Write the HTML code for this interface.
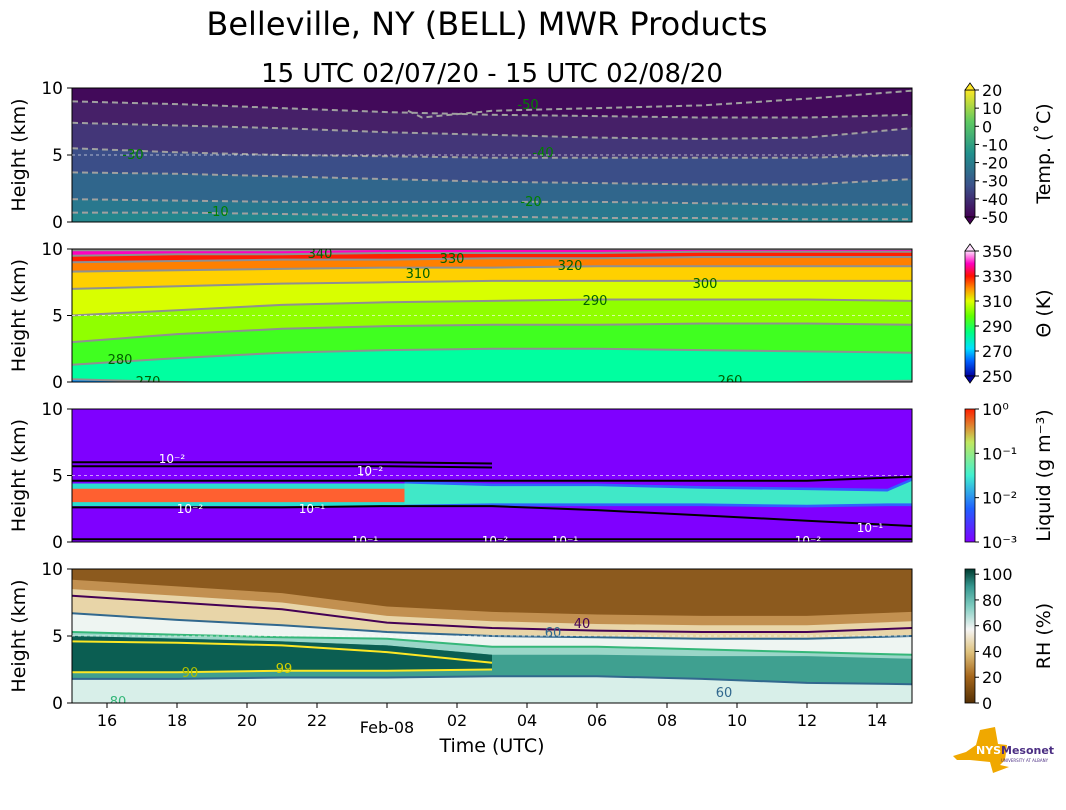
<!DOCTYPE html>
<html><head><meta charset="utf-8">
<style>
html,body{margin:0;padding:0;background:#fff;}
body{width:1066px;height:806px;overflow:hidden;font-family:"DejaVu Sans",sans-serif;}
svg text{font-family:"DejaVu Sans","Liberation Sans",sans-serif;}
</style></head>
<body>
<svg id="fig" width="1066" height="806" viewBox="0 0 1066 806">
<defs>
<linearGradient id="cb1" x1="0" y1="1" x2="0" y2="0">
<stop offset="0" stop-color="#440154"/><stop offset="0.25" stop-color="#3b528b"/><stop offset="0.5" stop-color="#21908d"/><stop offset="0.75" stop-color="#5ec962"/><stop offset="1" stop-color="#fde725"/></linearGradient>
<linearGradient id="cb2" x1="0" y1="1" x2="0" y2="0">
<stop offset="0" stop-color="#0000a0"/><stop offset="0.12" stop-color="#0060ff"/><stop offset="0.22" stop-color="#00e0ff"/><stop offset="0.35" stop-color="#00ff80"/><stop offset="0.48" stop-color="#60ff00"/><stop offset="0.6" stop-color="#e0ff00"/><stop offset="0.7" stop-color="#ff9000"/><stop offset="0.8" stop-color="#ff1000"/><stop offset="0.9" stop-color="#ff00c0"/><stop offset="1" stop-color="#ffe0ff"/></linearGradient>
<linearGradient id="cb3" x1="0" y1="1" x2="0" y2="0">
<stop offset="0" stop-color="#8000ff"/><stop offset="0.25" stop-color="#2060ff"/><stop offset="0.5" stop-color="#40f0d0"/><stop offset="0.75" stop-color="#c0e860"/><stop offset="1" stop-color="#ff2000"/></linearGradient>
<linearGradient id="cb4" x1="0" y1="1" x2="0" y2="0">
<stop offset="0" stop-color="#543005"/><stop offset="0.2" stop-color="#a6671c"/><stop offset="0.38" stop-color="#dfc27d"/><stop offset="0.55" stop-color="#f5f5f5"/><stop offset="0.72" stop-color="#80cdc1"/><stop offset="0.87" stop-color="#35978f"/><stop offset="1" stop-color="#003c30"/></linearGradient>
<clipPath id="c1"><rect x="72" y="88" width="840" height="134"/></clipPath>
<clipPath id="c2"><rect x="72" y="249" width="840" height="133"/></clipPath>
<clipPath id="c3"><rect x="72" y="409" width="840" height="133"/></clipPath>
<clipPath id="c4"><rect x="72" y="569" width="840" height="134"/></clipPath>
</defs>
<text x="487" y="35" font-size="32" text-anchor="middle">Belleville, NY (BELL) MWR Products</text>
<text x="492" y="82" font-size="26" text-anchor="middle">15 UTC 02/07/20 - 15 UTC 02/08/20</text>
<g id="panels"></g>
<g>
<path d="M953,756 L966,752 L976,745 L980,730 L995,727 L998,744 L1007,745 L1005,760 L1000,765 L1009,767 L993,773 L990,762 L970,760 L957,760 Z" fill="#f0a800"/>
<text x="976" y="754" font-size="11" font-weight="bold" fill="#fff">NYS</text>
<text x="1001" y="754" font-size="11" font-weight="bold" fill="#4b2e83">Mesonet</text>
<text x="1001" y="762" font-size="4" fill="#4b2e83">UNIVERSITY AT ALBANY</text>
</g>
</svg>
<script>
// ---- data ----
const times = [0,3,6,9,12,15,18,21,24]; // hours since 15 UTC 02/07
const xTickHours = [1,3,5,7,9,11,13,15,17,19,21,23];
const xTickLabels = ["16","18","20","22","Feb-08","02","04","06","08","10","12","14"];
const yTicks = [0,5,10];
// Temperature contours (km)
const tempLevels = [-10,-20,-25,-30,-40,-45];
const tempM10 = [0.7,0.7,0.6,0.5,0.4,0.3,0.3,0.2,0.2];
const tempM20 = [1.7,1.6,1.5,1.5,1.5,1.5,1.4,1.3,1.3];
const tempM25 = [3.7,3.6,3.4,3.2,3.0,2.9,2.8,2.8,3.2];
const tempM30 = [5.5,5.2,5.0,4.9,4.8,4.8,4.8,4.8,5.0];
const tempM40 = [7.4,7.2,7.0,6.7,6.5,6.3,6.2,6.3,7.0];
const tempM45 = [9.0,8.8,8.5,8.2,8.0,7.9,7.8,7.8,8.0];
const tempM50Times = [9.6,10,12,15,18,21,24];
const tempM50 = [8.3,7.8,8.3,8.5,8.7,9.2,9.8];
// Theta contours (km)
const thetaLevels = [270,280,285,290,300,310,320,330,340];
const theta270 = [0.2,0.0,-0.2,-0.3,-0.4,-0.4,-0.2,0.0,0.1];
const theta280 = [1.3,1.8,2.2,2.4,2.5,2.5,2.4,2.3,2.2];
const theta285 = [3.0,3.6,4.0,4.2,4.3,4.3,4.4,4.4,4.3];
const theta290 = [5.0,5.4,5.8,6.0,6.1,6.2,6.2,6.2,6.1];
const theta300 = [7.0,7.2,7.4,7.5,7.6,7.6,7.6,7.6,7.6];
const theta310 = [8.3,8.4,8.5,8.6,8.6,8.7,8.7,8.7,8.7];
const theta320 = [9.0,9.1,9.2,9.2,9.3,9.3,9.4,9.4,9.4];
const theta330 = [9.5,9.6,9.6,9.7,9.7,9.7,9.8,9.8,9.8];
const theta340 = [9.9,9.9,9.9,10,10,10,10,10,10];
// Liquid water bands (km)
const liqOrangeBottom = [3.0,3.0,3.0,3.0];
const liqOrangeTop = [4.0,4.0,4.0,4.0];
const liqOrangeTimes = [0,3,6,9.5];
const liqCyanTimes = [9.5,12,15,18,21,23.3,24];
const liqCyanBottom = [2.8,2.9,2.9,2.9,2.8,2.9,2.9];
const liqCyanTop = [4.4,4.2,4.2,4.0,3.9,3.8,4.6];
const liqLine1 = [6.0,6.0,6.0,6.0,5.9];          // hours 0..12
const liqLine2 = [5.7,5.7,5.7,5.7,5.6];
const liqLineTimes = [0,3,6,9,12];
const liqLowTop = [2.6,2.6,2.6,2.7,2.7,2.4,2.0,1.6,1.2];
// RH bands (km)
const rh40 = [8.0,7.5,7.0,6.0,5.6,5.4,5.3,5.3,5.6];
const rh60 = [6.7,6.2,5.8,5.3,5.0,4.9,4.8,4.8,5.0];
const rh90Top = [5.0,4.8,4.6,4.3,3.6,3.6,3.5,3.5,3.3];
const rh90Bot = [2.3,2.3,2.4,2.4,2.5,2.6,2.6,2.5,2.5];
const rhGreenTop = [5.3,5.1,4.9,4.8,4.2,4.2,4.0,3.8,3.6];
const rhGreenBot = [1.8,1.8,1.9,1.9,2.0,2.0,1.8,1.5,1.4];
const rh99 = [4.6,4.5,4.3,3.8,3.0,0,0,0,0];

// ---- helpers ----
const NS = "http://www.w3.org/2000/svg";
const P = [{top:88,h:134},{top:249,h:133},{top:409,h:133},{top:569,h:134}];
const X0 = 72, XW = 840;
function xs(t){return X0 + t*XW/24;}
function ys(p,h){return P[p].top + P[p].h*(1-h/10);}
const root = document.getElementById('panels');
function mk(tag, attrs, parent){
  const e = document.createElementNS(NS, tag);
  for (const k in attrs) e.setAttribute(k, attrs[k]);
  (parent||root).appendChild(e);
  return e;
}
function linePts(p, tt, hh){return tt.map((t,i)=>xs(t).toFixed(1)+','+ys(p,hh[i]).toFixed(1)).join(' ');}
function bandPts(p, tt, lo, hi){
  const a = tt.map((t,i)=>xs(t)+','+ys(p,hi[i]));
  const b = tt.map((t,i)=>xs(t)+','+ys(p,lo[i])).reverse();
  return a.concat(b).join(' ');
}
function band(p,g,tt,lo,hi,col,name){
  const e = mk('polygon',{points:bandPts(p,tt,lo,hi),fill:col},g);
  
  
}
function cline(p,g,tt,hh,col,dash,name,w){
  const e = mk('polyline',{points:linePts(p,tt,hh),fill:'none',stroke:col,'stroke-width':w||2,'stroke-dasharray':dash||'none'},g);
  
  
}
function label(g,x,y,txt,col,size,name){
  const e = mk('text',{x:x,y:y,fill:col,'font-size':size||13,'text-anchor':'middle'},g);
  e.textContent = txt;
  
  
  return e;
}
const top10 = times.map(()=>10.5), bot0 = times.map(()=>-0.5);

// ---- panel 1: temperature ----
let g = mk('g',{'clip-path':'url(#c1)'});


band(0,g,times,bot0,top10,'#420a5a','temp-fill-top');
band(0,g,times,bot0,tempM45,'#462068','temp-fill-45');
band(0,g,times,bot0,tempM40,'#433678','temp-fill-40');
band(0,g,times,bot0,tempM30,'#3b4e88','temp-fill-30');
band(0,g,times,bot0,tempM25,'#30668c','temp-fill-25');
band(0,g,times,bot0,tempM20,'#29788e','temp-fill-20');
band(0,g,times,bot0,tempM10,'#24868d','temp-fill-10');
[tempM10,tempM20,tempM25,tempM30,tempM40,tempM45].forEach((arr,i)=>cline(0,g,times,arr,'#a0a0a0','6,4','temp-contour-'+Math.abs(tempLevels[i])));
cline(0,g,tempM50Times,tempM50,'#a0a0a0','6,4','temp-contour-50');
label(g,218,216,'-10','#008000',13,'temp-label-10');
label(g,531,206,'-20','#008000',13,'temp-label-20');
label(g,133,159,'-30','#008000',13,'temp-label-30');
label(g,543,157,'-40','#008000',13,'temp-label-40');
label(g,528,109,'-50','#008000',13,'temp-label-50');

// ---- panel 2: theta ----
g = mk('g',{'clip-path':'url(#c2)'});


const thetaArr=[theta270,theta280,theta285,theta290,theta300,theta310,theta320,theta330,theta340];
const thetaCols=['#00e8ff','#00ffa0','#40ff20','#90ff00','#d8ff00','#ffd000','#ff8000','#ff2000','#ff00c0'];
band(1,g,times,bot0,top10,'#ff40ff','theta-fill-top');
for(let i=thetaArr.length-1;i>=0;i--) band(1,g,times,bot0,thetaArr[i],thetaCols[i],'theta-fill-'+thetaLevels[i]);
band(1,g,times,bot0,theta270,'#0090ff','theta-fill-260');
thetaArr.forEach((arr,i)=>cline(1,g,times,arr,'#909090','','theta-contour-'+thetaLevels[i]));
label(g,120,364,'280','#006000',13,'theta-label-280');
label(g,148,386,'270','#006000',13,'theta-label-270');
label(g,595,305,'290','#006000',13,'theta-label-290');
label(g,705,288,'300','#006000',13,'theta-label-300');
label(g,418,278,'310','#006000',13,'theta-label-310');
label(g,570,270,'320','#006000',13,'theta-label-320');
label(g,452,263,'330','#006000',13,'theta-label-330');
label(g,320,258,'340','#006000',13,'theta-label-340');
label(g,730,385,'260','#006000',13,'theta-label-260');

// ---- panel 3: liquid ----
g = mk('g',{'clip-path':'url(#c3)'});


band(2,g,times,bot0,top10,'#7f00ff','liquid-fill-bg');
band(2,g,liqCyanTimes,liqCyanBottom.map(v=>v-0.2),liqCyanTop.map(v=>v+0.2),'#3060ff','liquid-fill-blue');
band(2,g,liqCyanTimes,liqCyanBottom,liqCyanTop,'#40e8c8','liquid-fill-cyan');
band(2,g,liqOrangeTimes,liqOrangeBottom.map(v=>v-0.3),liqOrangeTop.map(v=>v+0.4),'#2adcd0','liquid-fill-teal');
band(2,g,liqOrangeTimes,liqOrangeBottom,liqOrangeTop,'#ff6030','liquid-fill-orange');
cline(2,g,liqLineTimes,liqLine1,'#000','','liquid-contour-upper1');
cline(2,g,liqLineTimes,liqLine2,'#000','','liquid-contour-upper2');
cline(2,g,times,times.map((t,i)=>i<3?4.6:(i<8?4.6:4.9)),'#000','','liquid-contour-mid');
cline(2,g,times,liqLowTop,'#000','','liquid-contour-low');
cline(2,g,times,times.map(()=>0.2),'#000','','liquid-contour-bottom');
const liqLabs=[[172,463,'10⁻²'],[370,475,'10⁻²'],[190,513,'10⁻²'],[312,513,'10⁻¹'],[870,532,'10⁻¹'],[365,545,'10⁻¹'],[495,545,'10⁻²'],[565,545,'10⁻¹'],[808,545,'10⁻²']];
liqLabs.forEach((l,i)=>label(g,l[0],l[1],l[2],'#fff',12,'liquid-label-'+i));

// ---- panel 4: RH ----
g = mk('g',{'clip-path':'url(#c4)'});


band(3,g,times,bot0,top10,'#8c5a1e','rh-fill-top');
band(3,g,times,bot0,rh40.map(v=>v+1.2),'#c29050','rh-fill-35');
band(3,g,times,bot0,rh40.map(v=>v+0.5),'#e8d5a8','rh-fill-45');
band(3,g,times,bot0,rh60,'#eef5f2','rh-fill-60');
band(3,g,times,bot0,rhGreenTop,'#9ad6c8','rh-fill-80');
band(3,g,times,rhGreenBot,rh90Top,'#3fa090','rh-fill-90');
band(3,g,times.slice(0,5),rh90Bot.slice(0,5),rh90Top.slice(0,5),'#0b5e52','rh-fill-99');
band(3,g,times,bot0,rhGreenBot,'#d8efe9','rh-fill-low');
cline(3,g,times,rh40,'#440154','','rh-contour-40');
cline(3,g,times,rh60,'#31688e','','rh-contour-60');
cline(3,g,times,rhGreenBot,'#31688e','','rh-contour-60-low');
cline(3,g,times,rhGreenTop,'#35b779','','rh-contour-80');
cline(3,g,times.slice(0,5),rh99.slice(0,5),'#fde725','','rh-contour-99');
cline(3,g,times.slice(0,5),rh90Bot.slice(0,5),'#fde725','','rh-contour-99-low');
label(g,582,628,'40','#440154',13,'rh-label-40');
label(g,553,637,'60','#31688e',13,'rh-label-60');
label(g,190,677,'90','#b0c000',13,'rh-label-90');
label(g,284,673,'99','#d0d000',13,'rh-label-99');
label(g,724,697,'60','#31688e',13,'rh-label-60b');
label(g,118,706,'80','#35b779',13,'rh-label-80');

// ---- frames, ticks, y labels ----
const ylabels=['temp','theta','liquid','rh'];
P.forEach((pp,p)=>{
  const f = mk('rect',{x:X0,y:pp.top,width:XW,height:pp.h,fill:'none',stroke:'#000','stroke-width':1});
  
  
  const d = mk('line',{x1:X0,x2:X0+XW,y1:ys(p,5),y2:ys(p,5),stroke:'#ffffff','stroke-width':0.7,'stroke-dasharray':'3,3',opacity:0.8});
  
  
  yTicks.forEach(v=>{
    const tk = mk('line',{x1:X0-5,x2:X0,y1:ys(p,v),y2:ys(p,v),stroke:'#000'});
    
    
    const tl = label(root,X0-9,ys(p,v)+6,String(v),'#000',17,ylabels[p]+'-y-tick-label');
    tl.setAttribute('text-anchor','end');
  });
  const yl = label(root,0,0,'Height (km)','#000',19,ylabels[p]+'-y-axis-title');
  yl.setAttribute('transform','translate(25,'+(pp.top+pp.h/2)+') rotate(-90)');
});
xTickHours.forEach((t,i)=>{
  const tk = mk('line',{x1:xs(t),x2:xs(t),y1:703,y2:708,stroke:'#000'});
  
  
  label(root,xs(t),xTickLabels[i]==='Feb-08'?733:726,xTickLabels[i],'#000',16,'x-tick-label');
});
label(root,492,752,'Time (UTC)','#000',19,'x-axis-title');

// ---- colorbars ----
const cbs=[
 {top:90,h:127,grad:'cb1',ticks:['20','10','0','-10','-20','-30','-40','-50'],title:'Temp. (˚C)',ext:true,name:'temp'},
 {top:251,h:125,grad:'cb2',ticks:['350','330','310','290','270','250'],title:'Θ (K)',ext:true,name:'theta'},
 {top:409,h:133,grad:'cb3',ticks:['10⁰','10⁻¹','10⁻²','10⁻³'],title:'Liquid (g m⁻³)',ext:false,name:'liquid'},
 {top:569,h:134,grad:'cb4',ticks:['100','80','60','40','20','0'],title:'RH (%)',ext:false,name:'rh'}];
cbs.forEach(c=>{
  const cx=965, cw=10;
  const r = mk('rect',{x:cx,y:c.top,width:cw,height:c.h,fill:'url(#'+c.grad+')',stroke:'#000','stroke-width':0.8});
  
  
  if(c.ext){
    const a = mk('polygon',{points:`${cx},${c.top} ${cx+cw/2},${c.top-7} ${cx+cw},${c.top}`,fill:c.name==='temp'?'#fde725':'#ffe0ff',stroke:'#000','stroke-width':0.8});
    
    
    const b = mk('polygon',{points:`${cx},${c.top+c.h} ${cx+cw/2},${c.top+c.h+7} ${cx+cw},${c.top+c.h}`,fill:c.name==='temp'?'#440154':'#0000a0',stroke:'#000','stroke-width':0.8});
    
    
  }
  const n=c.ticks.length;
  c.ticks.forEach((t,i)=>{
    let yy = c.top + c.h*i/(n-1);
    if(c.name==='rh') yy = c.top + c.h*(1-(100-i*20)/104);
    const tk = mk('line',{x1:cx+cw,x2:cx+cw+4,y1:yy,y2:yy,stroke:'#000'});
    
    
    const tl = label(root,cx+cw+7,yy+6,t,'#000',16,c.name+'-colorbar-tick-label');
    tl.setAttribute('text-anchor','start');
  });
  const tt = label(root,0,0,c.title,'#000',19,c.name+'-colorbar-title');
  tt.setAttribute('transform','translate(1050,'+(c.top+c.h/2)+') rotate(-90)');
});
</script>
</body></html>
